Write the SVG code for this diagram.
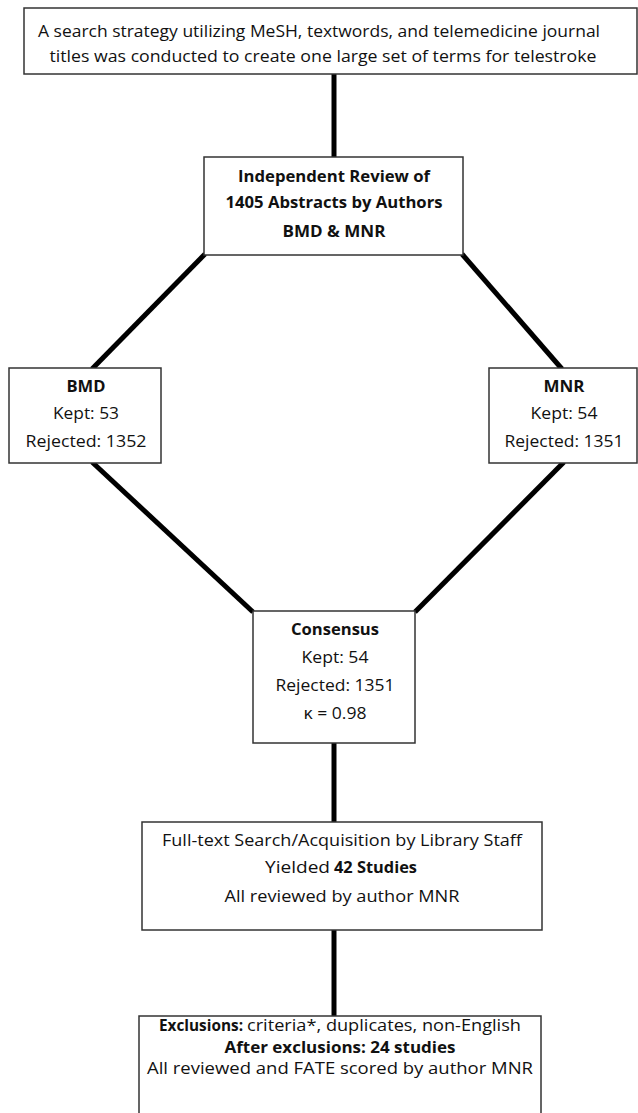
<svg xmlns="http://www.w3.org/2000/svg" width="638" height="1113" viewBox="0 0 638 1113">
<style>
.box{fill:#fff;stroke:#333;stroke-width:1.5}
.t{font-family:"Open Sans","Liberation Sans",sans-serif;font-size:16px;fill:#111;text-anchor:middle}
.s{text-anchor:start}
.b{font-weight:bold}
.c{stroke:#000;stroke-width:5;fill:none}
</style>
<rect width="638" height="1113" fill="#fff"/>
<g id="connectors">
<line class="c" x1="334" y1="74" x2="334" y2="157"/>
<line class="c" x1="205" y1="254" x2="92" y2="369"/>
<line class="c" x1="462" y1="254" x2="562" y2="369"/>
<line class="c" x1="92" y1="462" x2="253" y2="612"/>
<line class="c" x1="564" y1="462" x2="415" y2="612"/>
<line class="c" x1="334" y1="743" x2="334" y2="822"/>
<line class="c" x1="334" y1="930" x2="334" y2="1016"/>
</g>
<g id="search">
<rect class="box" x="24" y="8" width="613" height="66"/>
<text class="t" x="319" y="37" textLength="562" lengthAdjust="spacingAndGlyphs">A search strategy utilizing MeSH, textwords, and telemedicine journal</text>
<text class="t" x="323" y="62" textLength="547" lengthAdjust="spacingAndGlyphs">titles was conducted to create one large set of terms for telestroke</text>
</g>
<g id="review">
<rect class="box" x="204" y="157" width="259" height="98"/>
<text class="t b" x="334" y="182" textLength="192" lengthAdjust="spacingAndGlyphs">Independent Review of</text>
<text class="t b" x="334" y="208" textLength="217" lengthAdjust="spacingAndGlyphs">1405 Abstracts by Authors</text>
<text class="t b" x="334" y="237" textLength="103" lengthAdjust="spacingAndGlyphs">BMD &amp; MNR</text>
</g>
<g id="bmd">
<rect class="box" x="9" y="368" width="152" height="95"/>
<text class="t b" x="86" y="392" textLength="39" lengthAdjust="spacingAndGlyphs">BMD</text>
<text class="t" x="86" y="419" textLength="66" lengthAdjust="spacingAndGlyphs">Kept: 53</text>
<text class="t" x="86" y="447" textLength="121" lengthAdjust="spacingAndGlyphs">Rejected: 1352</text>
</g>
<g id="mnr">
<rect class="box" x="489" y="368" width="148" height="95"/>
<text class="t b" x="564" y="392" textLength="41" lengthAdjust="spacingAndGlyphs">MNR</text>
<text class="t" x="564" y="419" textLength="67" lengthAdjust="spacingAndGlyphs">Kept: 54</text>
<text class="t" x="564" y="447" textLength="119" lengthAdjust="spacingAndGlyphs">Rejected: 1351</text>
</g>
<g id="consensus">
<rect class="box" x="253" y="611" width="162" height="132"/>
<text class="t b" x="335" y="635" textLength="88" lengthAdjust="spacingAndGlyphs">Consensus</text>
<text class="t" x="335" y="663" textLength="67" lengthAdjust="spacingAndGlyphs">Kept: 54</text>
<text class="t" x="335" y="691" textLength="119" lengthAdjust="spacingAndGlyphs">Rejected: 1351</text>
<text class="t" x="335" y="719" textLength="63" lengthAdjust="spacingAndGlyphs">κ = 0.98</text>
</g>
<g id="fulltext">
<rect class="box" x="142" y="822" width="400" height="108"/>
<text class="t" x="342" y="846" textLength="360" lengthAdjust="spacingAndGlyphs">Full-text Search/Acquisition by Library Staff</text>
<text class="t s" y="873"><tspan x="265" textLength="65" lengthAdjust="spacingAndGlyphs">Yielded</tspan><tspan class="b" x="334" textLength="83" lengthAdjust="spacingAndGlyphs">42 Studies</tspan></text>
<text class="t" x="342" y="902" textLength="235" lengthAdjust="spacingAndGlyphs">All reviewed by author MNR</text>
</g>
<g id="exclusions">
<rect class="box" x="139" y="1016" width="402" height="110"/>
<text class="t s" y="1031"><tspan class="b" x="159" textLength="84" lengthAdjust="spacingAndGlyphs">Exclusions:</tspan><tspan x="247" textLength="274" lengthAdjust="spacingAndGlyphs">criteria*, duplicates, non-English</tspan></text>
<text class="t b" x="340" y="1053" textLength="231" lengthAdjust="spacingAndGlyphs">After exclusions: 24 studies</text>
<text class="t" x="340" y="1074" textLength="386" lengthAdjust="spacingAndGlyphs">All reviewed and FATE scored by author MNR</text>
</g>
</svg>
